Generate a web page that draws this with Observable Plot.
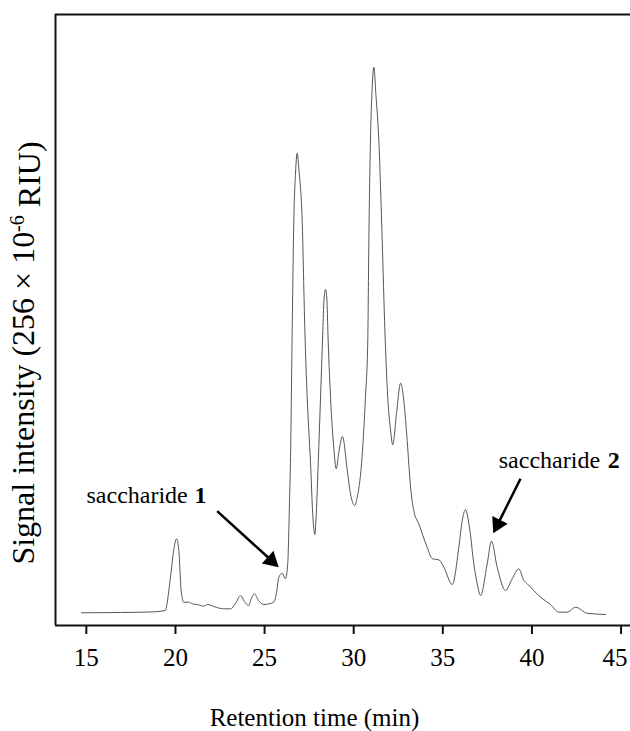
<!DOCTYPE html>
<html><head><meta charset="utf-8">
<script src="https://cdn.jsdelivr.net/npm/d3@7"></script>
<script src="https://cdn.jsdelivr.net/npm/@observablehq/plot@0.6"></script>
<style>html,body{margin:0;padding:0;background:#fff}</style>
</head><body><div id="chart"></div>
<script>
// Retention time (min)
const time = [14.72,16.91,18.60,19.44,19.49,19.72,19.90,20.06,20.19,20.32,20.47,20.75,20.94,21.22,21.59,21.81,22.15,22.71,23.09,23.37,23.65,23.87,24.11,24.26,24.43,24.66,24.96,25.52,25.67,25.80,25.99,26.17,26.30,26.40,26.45,26.55,26.64,26.73,26.83,26.93,27.11,27.26,27.39,27.58,27.70,27.82,27.90,28.01,28.14,28.27,28.33,28.42,28.50,28.55,28.70,28.88,29.02,29.18,29.37,29.64,29.82,30.06,30.20,30.44,30.66,30.79,30.85,30.94,31.03,31.13,31.25,31.41,31.60,31.75,31.91,32.07,32.19,32.40,32.63,32.85,33.00,33.19,33.37,33.65,34.12,34.41,34.78,35.06,35.53,35.90,36.09,36.27,36.52,36.74,36.93,37.12,37.49,37.73,38.05,38.52,38.89,39.26,39.55,39.74,40.48,41.04,41.51,41.98,42.45,43.10,44.13];
// Signal intensity (relative units)
const signal = [2.08,2.13,2.21,2.45,3.00,7.91,12.27,14.19,12.27,5.73,3.81,3.81,3.55,3.44,3.16,3.44,3.11,2.73,2.73,3.60,4.91,3.93,3.27,4.42,5.19,4.09,3.44,3.81,5.40,7.91,8.56,7.64,10.15,20.46,26.51,48.28,66.28,73.65,77.30,74.47,66.28,48.28,37.36,26.51,18.33,14.89,18.33,26.51,37.36,48.28,53.19,54.99,53.19,48.28,37.36,29.18,25.65,28.64,30.93,25.37,21.55,19.64,21.00,26.51,37.36,46.64,63.01,79.38,87.56,91.37,86.74,79.38,63.01,48.28,37.36,31.91,29.57,34.65,39.66,35.73,30.28,22.64,18.82,16.64,12.82,10.92,10.75,9.54,6.71,12.82,17.18,18.94,15.55,10.10,6.82,4.91,10.10,13.80,9.54,5.73,7.64,9.28,7.36,6.82,4.63,3.44,2.18,2.18,3.00,2.01,1.80];

const xDomain = [13.27, 45.53];
const yDomain = [0, 100];
const xTicks = [15, 20, 25, 30, 35, 40, 45];
const xEdgeTick = [45];
const xLabel = "Retention time (min)";
const yLabelMain = "Signal intensity (256 × 10";
const yLabelSup = "-6";
const yLabelTail = " RIU)";

// annotations (data coordinates)
const annText = ["saccharide", "saccharide"];
const annNum = ["1", "2"];
const annX = [15.01, 38.14];
const annXEnd = [21.74, 44.93];
const annY = [21.23, 26.96];
const arrowX1 = [22.34, 39.36];
const arrowY1 = [18.71, 24.01];
const arrowX2 = [25.25, 38.17];
const arrowY2 = [11.00, 17.09];
const headX = [25.38, 38.08];
const headY = [10.64, 16.56];
const headAngle = [132.3, 206.65];

const rows = time.map((t, i) => ({t, s: signal[i]}));
const idx = annText.map((_, i) => i);
const serif = "'Liberation Serif', 'Times New Roman', serif";

const chart = Plot.plot({
  width: 630,
  height: 731,
  marginLeft: 55,
  marginRight: 0,
  marginTop: 14,
  marginBottom: 106,
  style: {fontFamily: serif, fontSize: "25px", background: "#fff", color: "#000"},
  x: {domain: xDomain},
  y: {domain: yDomain, axis: null},
  marks: [
    Plot.axisX({ticks: xTicks, tickSize: 9, tickPadding: 14, fontSize: 25, strokeWidth: 2, stroke: "#111", label: null,
      tickFormat: d => xEdgeTick.includes(d) ? "" : String(d)}),
    Plot.axisX({ticks: xEdgeTick, tickSize: 0, tickPadding: 23, dx: -6, fontSize: 25, label: null, tickFormat: d => String(d)}),
    Plot.ruleY([yDomain[0], yDomain[1]], {stroke: "#111", strokeWidth: 2}),
    Plot.ruleX([xDomain[0]], {stroke: "#111", strokeWidth: 2}),
    Plot.line(rows, {x: "t", y: "s", curve: "monotone-x", stroke: "#555", strokeWidth: 1}),
    Plot.link(idx, {x1: arrowX1, y1: arrowY1, x2: arrowX2, y2: arrowY2, stroke: "#000", strokeWidth: 2.5}),
    Plot.dot(idx, {x: headX, y: headY, symbol: "triangle", r: 6.4, fill: "#000", stroke: "none", rotate: headAngle}),
    Plot.text(idx, {x: annX, y: annY, text: annText, textAnchor: "start", lineAnchor: "middle", fontSize: 24, fill: "#000"}),
    Plot.text(idx, {x: annXEnd, y: annY, text: annNum, textAnchor: "end", lineAnchor: "middle", fontSize: 24, fontWeight: "bold", fill: "#000"}),
    Plot.text([xLabel], {text: d => d, frameAnchor: "bottom", dx: -28.5, dy: 92, fontSize: 25, lineAnchor: "middle", fill: "#000"}),
    Plot.text([yLabelMain], {text: d => d, frameAnchor: "left", textAnchor: "middle", rotate: -90, dx: -31.5, dy: 33, fontSize: 32, lineAnchor: "middle", fill: "#000"})
  ]
});

document.getElementById("chart").appendChild(chart);

// add superscript part to the y label
const yl = Array.from(chart.querySelectorAll("text")).find(t => t.textContent === yLabelMain);
if (yl) {
  const ns = "http://www.w3.org/2000/svg";
  const sup = document.createElementNS(ns, "tspan");
  sup.setAttribute("dy", "-0.5em");
  sup.setAttribute("font-size", "20");
  sup.textContent = yLabelSup;
  const tail = document.createElementNS(ns, "tspan");
  tail.setAttribute("dy", "0.5em");
  tail.textContent = yLabelTail;
  yl.appendChild(sup);
  yl.appendChild(tail);
}
</script>
</body></html>
